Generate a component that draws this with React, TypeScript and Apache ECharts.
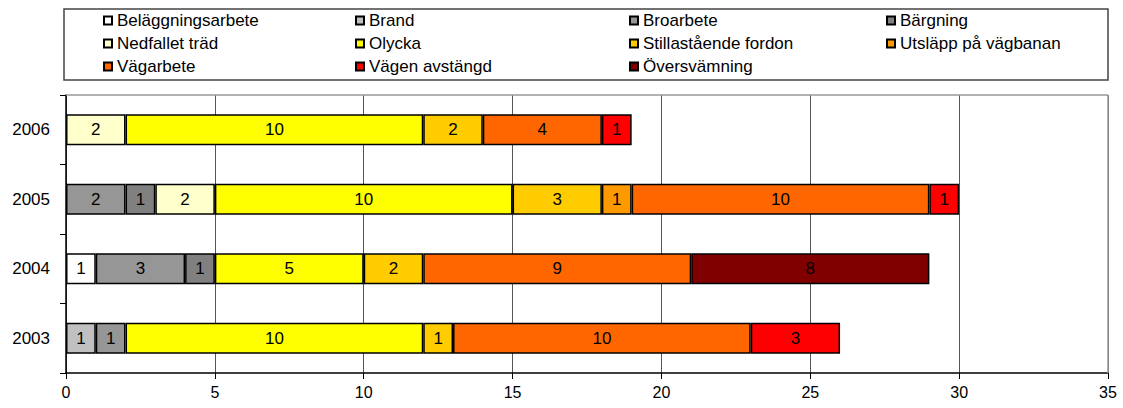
import React, { useEffect, useRef } from "react";
import * as echarts from "echarts";

const categories = ["2003", "2004", "2005", "2006"];
const seriesNames = [
  "Beläggningsarbete",
  "Brand",
  "Broarbete",
  "Bärgning",
  "Nedfallet träd",
  "Olycka",
  "Stillastående fordon",
  "Utsläpp på vägbanan",
  "Vägarbete",
  "Vägen avstängd",
  "Översvämning",
];
const belaggning = [null, 1, null, null];
const brand = [1, null, null, null];
const broarbete = [1, 3, 2, null];
const bargning = [null, 1, 1, null];
const nedfallet = [null, null, 2, 2];
const olycka = [10, 5, 10, 10];
const stillastaende = [1, 2, 3, 2];
const utslapp = [null, null, 1, null];
const vagarbete = [10, 9, 10, 4];
const vagenAvstangd = [3, null, 1, 1];
const oversvamning = [null, 8, null, null];
const xTicks = [0, 5, 10, 15, 20, 25, 30, 35];

const seriesValues = [
  belaggning,
  brand,
  broarbete,
  bargning,
  nedfallet,
  olycka,
  stillastaende,
  utslapp,
  vagarbete,
  vagenAvstangd,
  oversvamning,
];
const colors = [
  "#ffffff",
  "#c0c0c0",
  "#969696",
  "#808080",
  "#ffffcc",
  "#ffff00",
  "#ffcc00",
  "#ff9900",
  "#ff6600",
  "#ff0000",
  "#800000",
];

// legend layout (positions only)
const legendCols = [103, 355, 629, 886];
const legendRows = [12, 35, 58];

const FONT = "'Liberation Sans', Arial, sans-serif";

export default function App() {
  const ref = useRef<HTMLDivElement>(null);
  useEffect(() => {
    if (!ref.current) return;
    const chart = echarts.init(ref.current, null, { renderer: "svg" });
    const legends = seriesNames.map((name, i) => ({
      data: [name],
      left: legendCols[i % 4],
      top: legendRows[Math.floor(i / 4)],
      padding: 0,
      itemWidth: 8,
      itemHeight: 8,
      icon: "rect",
      selectedMode: false,
      textStyle: {
        fontFamily: FONT,
        fontSize: 17,
        lineHeight: 17,
        color: "#000",
        padding: [0, 0, 0, 0],
      },
    }));
    chart.setOption({
      animation: false,
      textStyle: { fontFamily: FONT },
      legend: legends,
      grid: { left: 66, right: 15, top: 95, bottom: 35, containLabel: false },
      xAxis: {
        type: "value",
        min: 0,
        max: xTicks[xTicks.length - 1],
        interval: 5,
        axisLine: { show: true, lineStyle: { color: "#000", width: 1.5 } },
        axisTick: { show: true, length: 6, lineStyle: { color: "#000" } },
        axisLabel: { fontSize: 16, color: "#000", margin: 11, fontFamily: FONT },
        splitLine: { show: true, lineStyle: { color: "#555", width: 1 } },
      },
      yAxis: {
        type: "category",
        data: categories,
        axisLine: { show: true, lineStyle: { color: "#000", width: 1.5 } },
        axisTick: { show: true, length: 6, lineStyle: { color: "#000" } },
        axisLabel: { fontSize: 17, color: "#000", margin: 16, fontFamily: FONT },
      },
      graphic: [
        {
          type: "rect",
          shape: { x: 64, y: 9, width: 1044, height: 71 },
          style: { fill: "none", stroke: "#444", lineWidth: 1.5 },
          z: 100,
        },
        {
          type: "line",
          shape: { x1: 66, y1: 95, x2: 1108, y2: 95 },
          style: { stroke: "#999", lineWidth: 1.5 },
          z: 100,
        },
        {
          type: "line",
          shape: { x1: 1108, y1: 95, x2: 1108, y2: 373 },
          style: { stroke: "#999", lineWidth: 1.5 },
          z: 100,
        },
      ],
      series: seriesNames.map((name, i) => ({
        name,
        type: "bar",
        stack: "total",
        barWidth: 31,
        data: seriesValues[i].map((v) => (v == null ? "-" : v)),
        itemStyle: { color: colors[i], borderColor: "#000", borderWidth: 1.5 },
        label: {
          show: true,
          position: "inside",
          color: "#000",
          fontSize: 17,
          fontFamily: FONT,
        },
      })),
    });
    return () => chart.dispose();
  }, []);
  return (
    <div
      ref={ref}
      style={{ position: "fixed", left: 0, top: 0, width: 1123, height: 408, background: "#fff" }}
    />
  );
}
